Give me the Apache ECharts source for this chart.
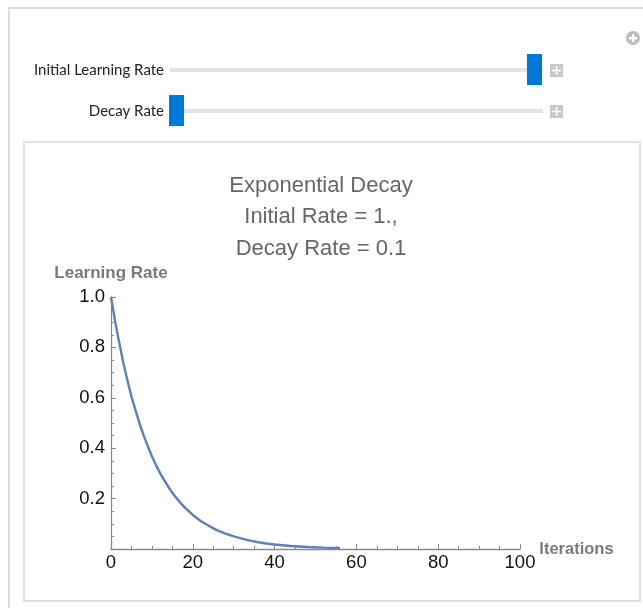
<!DOCTYPE html>
<html>
<head>
<meta charset="utf-8">
<script src="https://cdn.jsdelivr.net/npm/echarts@6/dist/echarts.min.js"></script>
<style>
html,body{margin:0;padding:0;background:#fff;}
#c{width:643px;height:608px;}
</style>
</head>
<body>
<div id="c"></div>
<script>
// Data
const iterations = [0,1,2,3,4,5,6,7,8,9,10,11,12,13,14,15,16,17,18,19,20,22,24,26,28,30,32,34,36,38,40,42,44,46,48,50,52,54,56];
const learningRate = [1.0,0.905,0.82,0.74,0.67,0.605,0.55,0.497,0.45,0.407,0.368,0.333,0.301,0.273,0.247,0.223,0.202,0.183,0.165,0.15,0.135,0.11,0.091,0.074,0.061,0.05,0.041,0.033,0.027,0.022,0.018,0.015,0.012,0.010,0.008,0.0067,0.0055,0.0045,0.0037];
const xTicks = [0,20,40,60,80,100];
const yTicks = [0.2,0.4,0.6,0.8,1.0];
const titleLines = ['Exponential Decay','Initial Rate = 1.,','Decay Rate = 0.1'];
const sliderLabels = ['Initial Learning Rate','Decay Rate'];

const chart = echarts.init(document.getElementById('c'), null, {renderer:'canvas'});
const axisGray = '#8a8a8a';
const FF = "'Liberation Sans', Arial, sans-serif";
const sliderText = {fontFamily:"Lato, 'Open Sans', sans-serif", fontSize:15, fill:'#222'};

const option = {
  animation:false,
  backgroundColor:'#fff',
  title:{
    text: titleLines.join('\n'),
    left: 316, top: 165, textAlign:'center',
    textStyle:{fontFamily:FF, fontSize:22, fontWeight:'normal', color:'#666', lineHeight:31.5}
  },
  grid:{left:111, right:123, top:297, bottom:59},
  xAxis:{
    type:'value', min:0, max:100, interval:20,
    name:'Iterations', nameLocation:'end', nameGap:16,
    nameTextStyle:{fontFamily:FF, fontSize:16.5, fontWeight:'bold', color:'#7a7a7a', align:'left', verticalAlign:'middle', padding:[4,0,0,0]},
    axisLine:{show:true, onZero:false, lineStyle:{color:axisGray, width:1.3}},
    axisTick:{show:true, inside:true, length:5, lineStyle:{color:axisGray}},
    minorTick:{show:true, splitNumber:4, length:3, lineStyle:{color:axisGray}},
    axisLabel:{fontFamily:FF, fontSize:18.5, color:'#111', margin:4,
      formatter:v=> xTicks.includes(v) ? String(v) : ''},
    splitLine:{show:false}
  },
  yAxis:{
    type:'value', min:0, max:1, interval:0.2,
    name:'Learning Rate', nameLocation:'end', nameGap:24,
    nameTextStyle:{fontFamily:FF, fontSize:17, fontWeight:'bold', color:'#7a7a7a', align:'center', verticalAlign:'middle'},
    axisLine:{show:true, onZero:false, lineStyle:{color:axisGray, width:1.3}},
    axisTick:{show:true, inside:true, length:5, lineStyle:{color:axisGray}},
    minorTick:{show:true, splitNumber:4, length:3, lineStyle:{color:axisGray}},
    axisLabel:{fontFamily:FF, fontSize:18.5, color:'#111', margin:6, showMinLabel:false,
      formatter:v=>{ const t = yTicks.find(k=>Math.abs(k-v)<1e-9); return t===undefined ? '' : t.toFixed(1); }},
    splitLine:{show:false}
  },
  series:[{
    type:'line', smooth:false, showSymbol:false,
    data: iterations.map((x,i)=>[x, learningRate[i]]),
    lineStyle:{color:'#5E81B5', width:2.4}
  }],
  graphic:[
    // outer frame
    {type:'rect', shape:{x:9, y:8, width:650, height:620}, style:{fill:'none', stroke:'#dcdcdc', lineWidth:2}, z:-10, silent:true},
    // inner panel
    {type:'rect', shape:{x:24, y:142, width:616, height:459}, style:{fill:'none', stroke:'#e2e2e2', lineWidth:2}, z:-10, silent:true},
    // top-right circle icon
    {type:'circle', shape:{cx:633, cy:38, r:7}, style:{fill:'#bdbdbd'}},
    {type:'rect', shape:{x:632, y:34, width:2.4, height:8}, style:{fill:'#fff'}},
    {type:'rect', shape:{x:629, y:37, width:8, height:2.4}, style:{fill:'#fff'}},
    // slider 1
    {type:'text', style:Object.assign({x:164, y:70, text:sliderLabels[0], align:'right', verticalAlign:'middle'}, sliderText)},
    {type:'rect', shape:{x:170, y:68, width:373, height:4}, style:{fill:'#e3e3e3'}},
    {type:'rect', shape:{x:527, y:54, width:15, height:31}, style:{fill:'#0078D7'}},
    {type:'rect', shape:{x:550, y:64, width:13, height:13}, style:{fill:'#c9c9c9'}},
    {type:'rect', shape:{x:555.8, y:66, width:1.6, height:9}, style:{fill:'#fff'}},
    {type:'rect', shape:{x:552, y:69.7, width:9, height:1.6}, style:{fill:'#fff'}},
    // slider 2
    {type:'text', style:Object.assign({x:164, y:111, text:sliderLabels[1], align:'right', verticalAlign:'middle'}, sliderText)},
    {type:'rect', shape:{x:170, y:109, width:373, height:4}, style:{fill:'#e3e3e3'}},
    {type:'rect', shape:{x:169, y:95, width:15, height:31}, style:{fill:'#0078D7'}},
    {type:'rect', shape:{x:550, y:105, width:13, height:13}, style:{fill:'#c9c9c9'}},
    {type:'rect', shape:{x:555.8, y:107, width:1.6, height:9}, style:{fill:'#fff'}},
    {type:'rect', shape:{x:552, y:110.7, width:9, height:1.6}, style:{fill:'#fff'}}
  ]
};
chart.setOption(option);
</script>
</body>
</html>
